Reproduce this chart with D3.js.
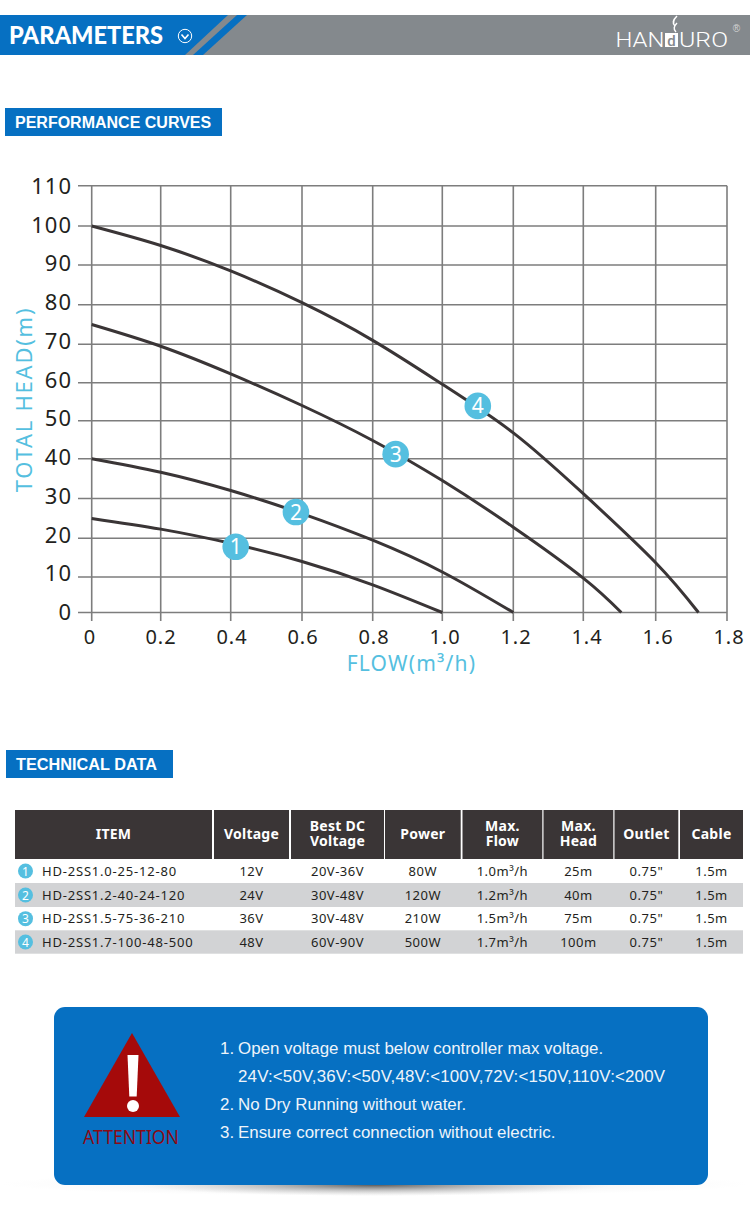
<!DOCTYPE html>
<html><head><meta charset="utf-8">
<script src="https://cdn.jsdelivr.net/npm/d3@7/dist/d3.min.js"></script>
<style>html,body{margin:0;padding:0;background:#fff}svg{display:block}</style>
</head><body><div id="chart"></div>
<script>
// ---- chart data
const flowTicks = [0,0.2,0.4,0.6,0.8,1.0,1.2,1.4,1.6,1.8];
const flowTickLabels = ["0","0.2","0.4","0.6","0.8","1.0","1.2","1.4","1.6","1.8"];
const headTicks = [0,10,20,30,40,50,60,70,80,90,100,110];
const curve1Flow = [0,0.2,0.4,0.6,0.8,1.0];
const curve1Head = [25,22.3,18.7,14,7.8,0];
const curve2Flow = [0,0.2,0.4,0.6,0.8,1.0,1.2];
const curve2Head = [40,36.6,32,26.2,19.5,11.3,0];
const curve3Flow = [0,0.2,0.4,0.6,0.8,1.0,1.2,1.4,1.505];
const curve3Head = [75,69.5,62.3,54,44.8,34.5,22.8,9.7,0];
const curve4Flow = [0,0.2,0.4,0.6,0.8,1.0,1.2,1.4,1.6,1.72];
const curve4Head = [100,95,88.5,80.5,71,59.6,46.8,31.2,13.7,0];
const badgeFlow = [0.414,0.583,0.866,1.1];
const badgeHead = [17.8,26.6,41.2,53.9];
const badgeLabels = ["1","2","3","4"];
// ---- table data
const colHeaders = [["ITEM"],["Voltage"],["Best DC","Voltage"],["Power"],["Max.","Flow"],["Max.","Head"],["Outlet"],["Cable"]];
const items = ["HD-2SS1.0-25-12-80","HD-2SS1.2-40-24-120","HD-2SS1.5-75-36-210","HD-2SS1.7-100-48-500"];
const voltage = ["12V","24V","36V","48V"];
const bestDC = ["20V-36V","30V-48V","30V-48V","60V-90V"];
const power = ["80W","120W","210W","500W"];
const maxFlow = ["1.0m³/h","1.2m³/h","1.5m³/h","1.7m³/h"];
const maxHead = ["25m","40m","75m","100m"];
const outlet = ['0.75"','0.75"','0.75"','0.75"'];
const cable = ["1.5m","1.5m","1.5m","1.5m"];
const notes = [["1.","Open voltage must below controller max voltage."],["","24V:<50V,36V:<50V,48V:<100V,72V:<150V,110V:<200V"],["2.","No Dry Running without water."],["3.","Ensure correct connection without electric."]];

const BLUE="#0670c2", GREY="#84898d", CYAN="#55bfe0", DARK="#3a3536";
const svg=d3.select("#chart").append("svg").attr("width",750).attr("height",1225);
const sans="'Noto Sans','Open Sans',sans-serif";

// ---- top banner
svg.append("rect").attr("x",0).attr("y",15).attr("width",750).attr("height",40).attr("fill",GREY);
svg.append("path").attr("d","M0,15H228L185,55H0Z").attr("fill",BLUE);
svg.append("path").attr("d","M237,15H247L203,55H193Z").attr("fill",BLUE);
svg.append("text").attr("x",9).attr("y",44).text("PARAMETERS")
  .attr("fill","#fff").attr("font-family","Lato,sans-serif").attr("font-weight",900).attr("font-size",24).attr("textLength",154).attr("lengthAdjust","spacingAndGlyphs");
svg.append("circle").attr("cx",185).attr("cy",36).attr("r",6.7).attr("fill","none").attr("stroke","#fff").attr("stroke-width",1);
svg.append("path").attr("d","M181.5,34.5L185,38.5L188.5,34.5").attr("fill","none").attr("stroke","#fff").attr("stroke-width",1.6);
// logo
const logoFont=s=>s.attr("fill","#fff").attr("font-family","Roboto,sans-serif").attr("font-weight",300).attr("font-size",19.5).attr("textLength",49).attr("lengthAdjust","spacingAndGlyphs");
logoFont(svg.append("text").attr("x",615.5).attr("y",47).text("HAN"));
svg.append("rect").attr("x",665).attr("y",33).attr("width",13).attr("height",14).attr("fill","#fff");
svg.append("text").attr("x",671.5).attr("y",46).attr("text-anchor","middle").text("d").attr("fill",GREY).attr("font-family","Roboto,sans-serif").attr("font-weight",500).attr("font-size",15);
logoFont(svg.append("text").attr("x",679).attr("y",47).text("URO"));
svg.append("path").attr("d","M677,16C673,20 672,23 675,26M677,23C674,26 673,29 676,32").attr("fill","none").attr("stroke","#fff").attr("stroke-width",1.5);
svg.append("text").attr("x",736.5).attr("y",32).attr("text-anchor","middle").text("®").attr("fill","#d5d5d5").attr("font-family","Liberation Sans").attr("font-size",10);

// ---- section tabs
function tab(x,y,w,label,tx,fs){
  svg.append("rect").attr("x",x).attr("y",y).attr("width",w).attr("height",28).attr("fill",BLUE);
  svg.append("text").attr("x",tx).attr("y",y+19.5).text(label).attr("fill","#fff")
    .attr("font-family","'Liberation Sans',Arial,sans-serif").attr("font-weight",700).attr("font-size",fs);
}
tab(5,108,217,"PERFORMANCE CURVES",15,16);
tab(6,750,167,"TECHNICAL DATA",16,16.3);

// ---- chart
const x=d3.scaleLinear().domain(flowTicks).range([91.7,160.7,230.7,302,372.7,442.3,513.3,583.3,655.7,727]);
const y=d3.scaleLinear().domain(headTicks).range([612.5,577,538.3,498.5,458.7,420.7,382.7,344.3,304.7,265,226,185.7]);
const xLabel=d3.scaleLinear().domain([0,1.8]).range([90,729]);
const yLabel=d3.scaleLinear().domain([0,110]).range([612,186]);
const g=svg.append("g");
const GRID="#7d7d7d";
g.selectAll(".h").data(headTicks).join("line").attr("x1",78).attr("x2",727).attr("y1",d=>y(d)).attr("y2",d=>y(d)).attr("stroke",GRID).attr("stroke-width",1.6);
g.selectAll(".v").data(flowTicks).join("line").attr("x1",d=>x(d)).attr("x2",d=>x(d)).attr("y1",y(110)).attr("y2",621).attr("stroke",GRID).attr("stroke-width",1.6);
g.selectAll(".yl").data(headTicks).join("text").attr("x",72).attr("y",d=>yLabel(d)+8).attr("text-anchor","end").text(d=>d)
  .attr("fill","#231f20").attr("font-family",sans).attr("font-size",22).attr("letter-spacing",1);
g.selectAll(".xl").data(flowTicks).join("text").attr("x",d=>xLabel(d)).attr("y",644).attr("text-anchor","middle").text((d,i)=>flowTickLabels[i])
  .attr("fill","#231f20").attr("font-family",sans).attr("font-size",20).attr("letter-spacing",1);
const line=d3.line().x(d=>x(d[0])).y(d=>y(d[1])).curve(d3.curveNatural);
[[curve1Flow,curve1Head],[curve2Flow,curve2Head],[curve3Flow,curve3Head],[curve4Flow,curve4Head]].forEach(([f,h])=>{
  g.append("path").attr("d",line(d3.zip(f,h))).attr("fill","none").attr("stroke",DARK).attr("stroke-width",3);
});
badgeLabels.forEach((b,i)=>{
  g.append("circle").attr("cx",x(badgeFlow[i])).attr("cy",y(badgeHead[i])).attr("r",13.3).attr("fill",CYAN);
  g.append("text").attr("x",x(badgeFlow[i])).attr("y",y(badgeHead[i])+7.5).attr("text-anchor","middle").text(b)
   .attr("fill","#fff").attr("font-family",sans).attr("font-size",21);
});
svg.append("text").attr("transform","translate(32,399.5) rotate(-90)").attr("text-anchor","middle").text("TOTAL HEAD(m)")
  .attr("fill",CYAN).attr("font-family",sans).attr("font-size",22).attr("letter-spacing",1.75);
svg.append("text").attr("x",411.5).attr("y",671).attr("text-anchor","middle").text("FLOW(m³/h)")
  .attr("fill",CYAN).attr("font-family",sans).attr("font-size",21).attr("letter-spacing",1.2);

// ---- table
const colL=[15,214,291,385,462.5,543.5,614.5,680], colR=[212,289,384,460.7,542.3,613.3,678.3,743];
const rowEdges=d3.scaleLinear().domain([0,1,2,3,4]).range([859,883,907,930.3,953.7]);
const t=svg.append("g");
colHeaders.forEach((h,i)=>{
  t.append("rect").attr("x",colL[i]).attr("y",810).attr("width",colR[i]-colL[i]).attr("height",49).attr("fill",DARK);
  h.forEach((s,j)=>t.append("text").attr("x",(colL[i]+colR[i])/2).attr("y",h.length==1?839:(j==0?831:845.5)).attr("text-anchor","middle").text(s)
    .attr("fill","#fff").attr("font-family",sans).attr("font-weight",700).attr("font-size",14).attr("letter-spacing",0.25));
});
const cols=[voltage,bestDC,power,maxFlow,maxHead,outlet,cable];
items.forEach((it,r)=>{
  if(r%2==1) t.append("rect").attr("x",15).attr("y",rowEdges(r)).attr("width",728).attr("height",rowEdges(r+1)-rowEdges(r)).attr("fill","#d2d3d5");
  const cy=(rowEdges(r)+rowEdges(r+1))/2;
  t.append("circle").attr("cx",25.5).attr("cy",cy).attr("r",7.5).attr("fill",CYAN);
  t.append("text").attr("x",25.5).attr("y",cy+4.5).attr("text-anchor","middle").text(badgeLabels[r]).attr("fill","#fff").attr("font-family",sans).attr("font-size",12);
  t.append("text").attr("x",42).attr("y",cy+4.5).text(it).attr("fill","#231f20").attr("font-family",sans).attr("font-size",13).attr("letter-spacing",0.8);
  cols.forEach((c,i)=>t.append("text").attr("x",(colL[i+1]+colR[i+1])/2).attr("y",cy+4.5).attr("text-anchor","middle").text(c[r])
    .attr("fill","#231f20").attr("font-family",sans).attr("font-size",13).attr("letter-spacing",0.5));
});

// ---- notice box
const defs=svg.append("defs");
const wide=defs.append("radialGradient").attr("id","shadowWide");
wide.append("stop").attr("offset","0%").attr("stop-color","#999").attr("stop-opacity",0.3);
wide.append("stop").attr("offset","100%").attr("stop-color","#ccc").attr("stop-opacity",0);
const core=defs.append("radialGradient").attr("id","shadowCore");
core.append("stop").attr("offset","0%").attr("stop-color","#555").attr("stop-opacity",0.95);
core.append("stop").attr("offset","45%").attr("stop-color","#888").attr("stop-opacity",0.5);
core.append("stop").attr("offset","100%").attr("stop-color","#bbb").attr("stop-opacity",0);
svg.append("ellipse").attr("cx",375).attr("cy",1184).attr("rx",375).attr("ry",12).attr("fill","url(#shadowWide)");
svg.append("ellipse").attr("cx",375).attr("cy",1185).attr("rx",235).attr("ry",11).attr("fill","url(#shadowCore)");
svg.append("rect").attr("x",54).attr("y",1007).attr("width",654).attr("height",178).attr("rx",11).attr("fill",BLUE);
svg.append("path").attr("d","M132,1033L180,1117H84Z").attr("fill","#a50a0a");
svg.append("path").attr("d","M127.5,1055H138.5L136.7,1096.5H129.3Z").attr("fill","#fff");
svg.append("circle").attr("cx",133).attr("cy",1106).attr("r",6).attr("fill","#fff");
svg.append("text").attr("x",131).attr("y",1143.5).attr("text-anchor","middle").text("ATTENTION").attr("fill","#8b0a14")
  .attr("font-family","'Noto Sans',sans-serif").attr("font-size",19).attr("textLength",96).attr("lengthAdjust","spacingAndGlyphs");
const noteY=d3.scaleLinear().domain([0,3]).range([1054,1138]);
notes.forEach((n,i)=>{
  const st=s=>s.attr("fill","#eef4fa").attr("font-family","'Liberation Sans',Arial,sans-serif").attr("font-size",16.9);
  if(n[0]) st(svg.append("text").attr("x",220).attr("y",noteY(i)).text(n[0]));
  const m=st(svg.append("text").attr("x",238).attr("y",noteY(i)).text(n[1]));
  if(!n[0]) m.attr("textLength",427);
});
</script></body></html>
